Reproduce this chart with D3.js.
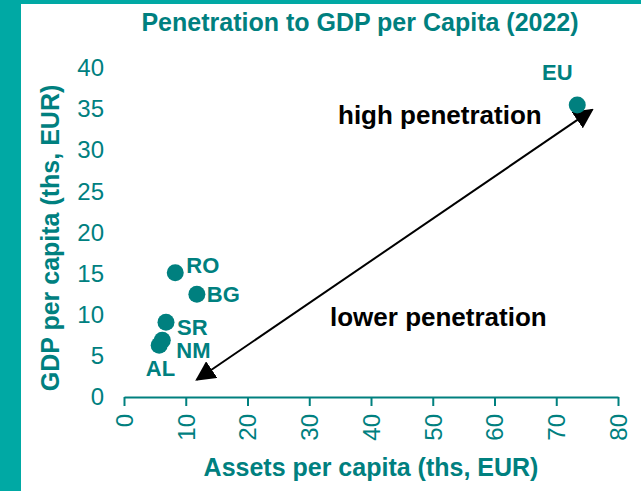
<!DOCTYPE html>
<html>
<head>
<meta charset="utf-8">
<script src="https://cdn.jsdelivr.net/npm/d3@7"></script>
<style>
  html, body { margin: 0; padding: 0; background: #fff; }
  svg { display: block; font-family: "Liberation Sans", Arial, sans-serif; }
</style>
</head>
<body>
<svg id="chart" width="641" height="491"></svg>
<script>
// Countries: assets per capita (x) and GDP per capita (y), thousands of EUR
const countries = ["RO", "BG", "SR", "NM", "AL", "EU"];
const assetsPerCapita = [8.3, 11.8, 6.8, 6.2, 5.7, 73.4];
const gdpPerCapita = [15.1, 12.5, 9.1, 6.9, 6.3, 35.5];

const xTicks = [0, 10, 20, 30, 40, 50, 60, 70, 80];
const yTicks = [0, 5, 10, 15, 20, 25, 30, 35, 40];

// Double-headed arrow from low to high penetration (data units)
const arrowFrom = [11.8, 2.1];
const arrowTo = [75.8, 34.9];

const teal = "#00807f";
const frame = "#00a9a4";

const svg = d3.select("#chart");
const W = 641, H = 491;

// Frame strips
svg.append("rect").attr("x", 0).attr("y", 0).attr("width", W).attr("height", 4).attr("fill", frame);
svg.append("rect").attr("x", 0).attr("y", 0).attr("width", 21).attr("height", H).attr("fill", frame);

const x = d3.scaleLinear().domain([0, 80]).range([124, 618]);
const y = d3.scaleLinear().domain([0, 40]).range([397, 68]);

// Title
svg.append("text")
  .attr("x", 360).attr("y", 31)
  .attr("text-anchor", "middle")
  .attr("font-size", 25).attr("font-weight", "bold")
  .attr("fill", teal)
  .text("Penetration to GDP per Capita (2022)");

// X axis
const xAxis = svg.append("g")
  .attr("transform", `translate(0,${y(0)})`)
  .call(d3.axisBottom(x).tickValues(xTicks).tickSize(9).tickSizeOuter(0).tickFormat(d3.format("d")));
xAxis.select(".domain").attr("stroke", teal).attr("stroke-width", 2);
xAxis.selectAll(".tick line").attr("stroke", teal).attr("stroke-width", 2);
xAxis.selectAll(".tick text")
  .attr("fill", teal).attr("font-size", 24)
  .attr("transform", "rotate(-90)")
  .attr("x", -17).attr("y", 0).attr("dy", "0.35em")
  .attr("text-anchor", "end");

// Y axis (labels only)
const yAxis = svg.append("g")
  .attr("transform", `translate(${x(0)},0)`)
  .call(d3.axisLeft(y).tickValues(yTicks).tickSize(0).tickPadding(20).tickFormat(d3.format("d")));
yAxis.select(".domain").remove();
yAxis.selectAll(".tick text").attr("fill", teal).attr("font-size", 24);

// Axis titles
svg.append("text")
  .attr("x", 371).attr("y", 476)
  .attr("text-anchor", "middle")
  .attr("font-size", 25).attr("font-weight", "bold")
  .attr("fill", teal)
  .text("Assets per capita (ths, EUR)");

svg.append("text")
  .attr("transform", "translate(59,238) rotate(-90)")
  .attr("text-anchor", "middle")
  .attr("font-size", 25).attr("font-weight", "bold")
  .attr("fill", teal)
  .text("GDP per capita (ths, EUR)");

// Arrow
const defs = svg.append("defs");
["start", "end"].forEach(k => {
  defs.append("marker")
    .attr("id", "head-" + k)
    .attr("viewBox", "0 0 10 10")
    .attr("refX", 9).attr("refY", 5)
    .attr("markerWidth", 20).attr("markerHeight", 20)
    .attr("markerUnits", "userSpaceOnUse")
    .attr("orient", k === "start" ? "auto-start-reverse" : "auto")
    .append("path")
    .attr("d", "M0,0 L10,5 L0,10 Z")
    .attr("fill", "#000");
});

svg.append("line")
  .attr("x1", x(arrowFrom[0])).attr("y1", y(arrowFrom[1]))
  .attr("x2", x(arrowTo[0])).attr("y2", y(arrowTo[1]))
  .attr("stroke", "#000").attr("stroke-width", 2)
  .attr("marker-start", "url(#head-start)")
  .attr("marker-end", "url(#head-end)");

// Annotations
svg.append("text")
  .attr("x", 338).attr("y", 124)
  .attr("font-size", 26).attr("font-weight", "bold").attr("fill", "#000")
  .text("high penetration");
svg.append("text")
  .attr("x", 330).attr("y", 326)
  .attr("font-size", 26).attr("font-weight", "bold").attr("fill", "#000")
  .text("lower penetration");

// Points
const data = countries.map((c, i) => ({ c, a: assetsPerCapita[i], g: gdpPerCapita[i] }));
svg.append("g").selectAll("circle")
  .data(data).join("circle")
  .attr("cx", d => x(d.a)).attr("cy", d => y(d.g))
  .attr("r", 8.5)
  .attr("fill", teal);

// Point labels
const labelOffset = {
  RO: [11, 0, "start"],
  BG: [10, 8, "start"],
  SR: [11, 13, "start"],
  NM: [14, 18, "start"],
  AL: [16, 31, "end"],
  EU: [-20, -25, "middle"]
};
svg.append("g").selectAll("text")
  .data(data).join("text")
  .attr("x", d => x(d.a) + labelOffset[d.c][0])
  .attr("y", d => y(d.g) + labelOffset[d.c][1])
  .attr("text-anchor", d => labelOffset[d.c][2])
  .attr("font-size", 22).attr("font-weight", "bold")
  .attr("fill", teal)
  .text(d => d.c);
</script>
</body>
</html>
